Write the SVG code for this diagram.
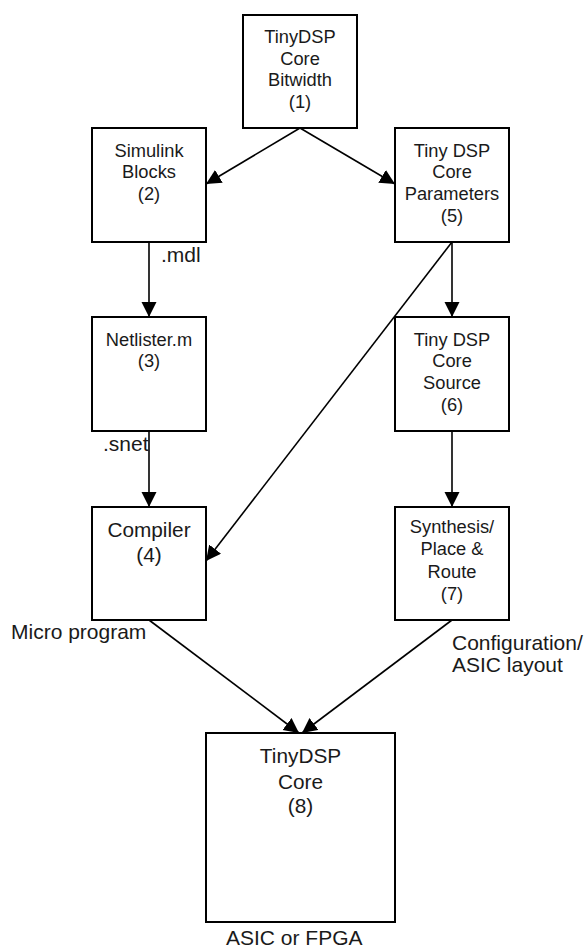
<svg xmlns="http://www.w3.org/2000/svg" width="587" height="949" viewBox="0 0 587 949">
<style>
.box{fill:#fff;stroke:#000;stroke-width:2}
.t{font-family:"Liberation Sans",Arial,sans-serif;font-size:18.3px;fill:#1a1a1a;text-anchor:middle}
.big{font-size:20.8px}
.lbl{font-family:"Liberation Sans",Arial,sans-serif;font-size:21px;fill:#1a1a1a}
.c{stroke:#000;stroke-width:1.6;fill:none;marker-end:url(#ah)}
</style>
<defs>
<marker id="ah" markerUnits="userSpaceOnUse" markerWidth="16" markerHeight="16" refX="15" refY="7.5" orient="auto">
<path d="M0,0 L15,7.5 L0,15 z" fill="#000"/>
</marker>
</defs>
<rect width="587" height="949" fill="#fff"/>
<g id="connectors">
<line class="c" x1="300" y1="128" x2="206" y2="184"/>
<line class="c" x1="300" y1="128" x2="395" y2="184"/>
<line class="c" x1="149" y1="242" x2="149" y2="317"/>
<line class="c" x1="452" y1="242" x2="452" y2="317"/>
<line class="c" x1="452" y1="242" x2="206" y2="561"/>
<line class="c" x1="149" y1="431" x2="149" y2="507"/>
<line class="c" x1="452" y1="431" x2="452" y2="507"/>
<line class="c" x1="149" y1="620" x2="299" y2="733"/>
<line class="c" x1="452" y1="620" x2="302" y2="733"/>
</g>
<g id="n1">
<rect class="box" x="243" y="15" width="114" height="113"/>
<text class="t" x="300" y="43">TinyDSP</text>
<text class="t" x="300" y="65">Core</text>
<text class="t" x="300" y="86">Bitwidth</text>
<text class="t" x="300" y="108">(1)</text>
</g>
<g id="n2">
<rect class="box" x="92" y="128" width="114" height="114"/>
<text class="t" x="149" y="157">Simulink</text>
<text class="t" x="149" y="178">Blocks</text>
<text class="t" x="149" y="200">(2)</text>
</g>
<g id="n5">
<rect class="box" x="395" y="128" width="114" height="114"/>
<text class="t" x="452" y="157">Tiny DSP</text>
<text class="t" x="452" y="178">Core</text>
<text class="t" x="452" y="200">Parameters</text>
<text class="t" x="452" y="222">(5)</text>
</g>
<g id="n3">
<rect class="box" x="92" y="317" width="114" height="114"/>
<text class="t" x="149" y="346">Netlister.m</text>
<text class="t" x="149" y="367">(3)</text>
</g>
<g id="n6">
<rect class="box" x="395" y="317" width="114" height="114"/>
<text class="t" x="452" y="346">Tiny DSP</text>
<text class="t" x="452" y="367">Core</text>
<text class="t" x="452" y="389">Source</text>
<text class="t" x="452" y="411">(6)</text>
</g>
<g id="n4">
<rect class="box" x="92" y="507" width="114" height="113"/>
<text class="t big" x="149" y="537">Compiler</text>
<text class="t big" x="149" y="562">(4)</text>
</g>
<g id="n7">
<rect class="box" x="395" y="507" width="114" height="113"/>
<text class="t" x="452" y="533">Synthesis/</text>
<text class="t" x="452" y="555">Place &amp;</text>
<text class="t" x="452" y="578">Route</text>
<text class="t" x="452" y="600">(7)</text>
</g>
<g id="n8">
<rect class="box" x="206" y="733" width="189" height="189"/>
<text class="t big" x="300.5" y="763">TinyDSP</text>
<text class="t big" x="300.5" y="789">Core</text>
<text class="t big" x="300.5" y="813">(8)</text>
</g>
<g id="labels">
<text class="lbl" x="161" y="262">.mdl</text>
<text class="lbl" x="103" y="451">.snet</text>
<text class="lbl" x="11" y="639">Micro program</text>
<text class="lbl" x="452" y="650">Configuration/</text>
<text class="lbl" x="452" y="672">ASIC layout</text>
<text class="lbl" x="226" y="945">ASIC or FPGA</text>
</g>
</svg>
